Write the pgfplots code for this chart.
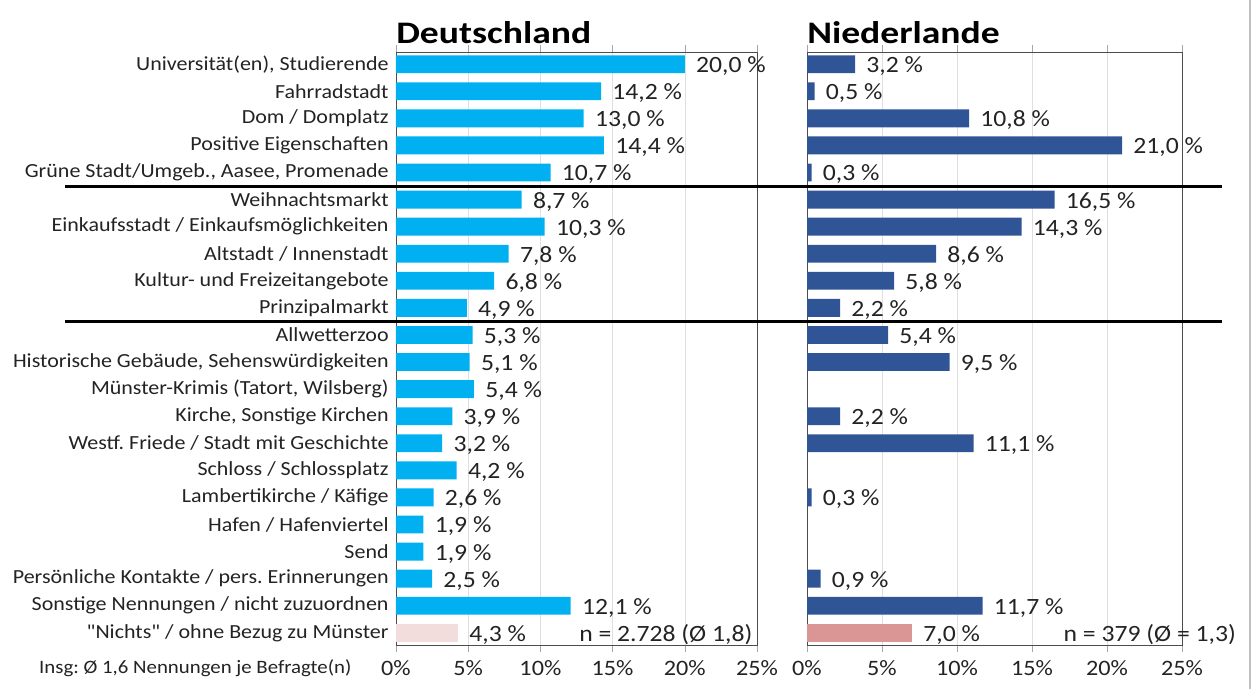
\documentclass[border=0pt]{standalone}
\usepackage{fontspec}
\setmainfont{Carlito}[FakeStretch=1.1]
\newfontfamily\plainq{Carlito}[FakeStretch=1.1]
\newfontfamily\tfont{Carlito}[FakeStretch=1.2]
\usepackage{pgfplots}
\pgfplotsset{compat=1.18}
\frenchspacing
\definecolor{cyanbar}{RGB}{0,176,240}
\definecolor{nlbar}{RGB}{47,85,151}
\definecolor{pinkL}{RGB}{242,220,220}
\definecolor{pinkR}{RGB}{218,150,148}
\definecolor{txt}{RGB}{35,35,35}

\pgfplotstableread{
y v
0 20.0
1 14.2
2 13.0
3 14.4
4 10.7
5 8.7
6 10.3
7 7.8
8 6.8
9 4.9
10 5.3
11 5.1
12 5.4
13 3.9
14 3.2
15 4.2
16 2.6
17 1.9
18 1.9
19 2.5
20 12.1
}\deTable
\pgfplotstableread{
y v
21 4.3
}\deLast
\pgfplotstableread{
y v
0 3.2
1 0.5
2 10.8
3 21.0
4 0.3
5 16.5
6 14.3
7 8.6
8 5.8
9 2.2
10 5.4
11 9.5
13 2.2
14 11.1
16 0.3
19 0.9
20 11.7
}\nlTable
\pgfplotstableread{
y v
21 7.0
}\nlLast

\pgfplotsset{
  myax/.style={
    scale only axis,
    height=444.75pt,
    xmin=0, xmax=25,
    ymin=-0.45, ymax=21.45,
    y dir=reverse,
    xtick={0,5,...,25},
    xticklabel={\pgfmathprintnumber{\tick}\%},
    xmajorgrids,
    grid style={gray!25},
    ytick={0,...,21},
    major tick length=5pt,
    tick align=outside,
    xtick style={gray!70},
    ytick style={draw=none},
    axis line style={gray!60!black},
    /pgf/number format/assume math mode=true,
    yticklabel style={font=\fontsize{15}{17}\selectfont, text=txt},
    xticklabel style={font=\fontsize{16.5}{18}\selectfont, text=txt, yshift=-3pt},
    xbar, bar width=0.66, bar shift=0pt,
    point meta=x,
    nodes near coords={\pgfmathprintnumber[fixed,fixed zerofill,precision=1,use comma]{\pgfplotspointmeta}~\%},
    every node near coord/.append style={anchor=west, xshift=5pt, yshift=-1.5pt, font=\fontsize{17.5}{19}\selectfont, text=txt},
    title style={at={(0,1)}, anchor=south west, inner xsep=0pt, yshift=-3pt, font=\tfont\bfseries\fontsize{23.5}{26}\selectfont},
    clip=false,
  }
}

\begin{document}
\begin{tikzpicture}[x=0.75pt,y=0.75pt]
\useasboundingbox (0,0) rectangle (1253,689);

\begin{axis}[myax, at={(297pt,33pt)}, anchor=south west, width=270.75pt,
  title={Deutschland},
  yticklabels={
    {Universität(en), Studierende},
    {Fahrradstadt},
    {Dom / Domplatz},
    {Positive Eigenschaften},
    {Grüne Stadt/Umgeb., Aasee, Promenade},
    {Weihnachtsmarkt},
    {Einkaufsstadt / Einkaufsmöglichkeiten},
    {Altstadt / Innenstadt},
    {Kultur- und Freizeitangebote},
    {Prinzipalmarkt},
    {Allwetterzoo},
    {Historische Gebäude, Sehenswürdigkeiten},
    {Münster-Krimis (Tatort, Wilsberg)},
    {Kirche, Sonstige Kirchen},
    {Westf. Friede / Stadt mit Geschichte},
    {Schloss / Schlossplatz},
    {Lambertikirche / Käfige},
    {Hafen / Hafenviertel},
    {Send},
    {Persönliche Kontakte / pers. Erinnerungen},
    {Sonstige Nennungen / nicht zuzuordnen},
    {{\plainq"}Nichts{\plainq"} / ohne Bezug zu Münster}},
  yticklabel style={xshift=3pt},
]
\addplot[fill=cyanbar, draw=none] table[x=v, y=y] {\deTable};
\addplot[fill=pinkL, draw=none] table[x=v, y=y] {\deLast};
\node[anchor=east, font=\fontsize{17.5}{19}\selectfont, text=txt, yshift=-1.5pt] at (axis cs:25,21) {n = 2.728 (Ø 1,8)};
\end{axis}
\node[anchor=east, font=\fontsize{14.2}{16}\selectfont, text=txt] at (356,21) {Insg: Ø 1,6 Nennungen je Befragte(n)};

\begin{axis}[myax, at={(605.25pt,33pt)}, anchor=south west, width=281.25pt,
  title={Niederlande},
  yticklabels={},
]
\addplot[fill=nlbar, draw=none] table[x=v, y=y] {\nlTable};
\addplot[fill=pinkR, draw=none] table[x=v, y=y] {\nlLast};
\node[anchor=west, font=\fontsize{17.5}{19}\selectfont, text=txt, yshift=-1.5pt] at (axis cs:16.8,21) {n = 379 (Ø = 1,3)};
\end{axis}

\draw[line width=1.6pt] (65,502.5) -- (1222,502.5);
\draw[line width=1.6pt] (65,367.5) -- (1222,367.5);
\draw[gray!50, line width=1pt] (1250,0) -- (1250,689);
\end{tikzpicture}
\end{document}
